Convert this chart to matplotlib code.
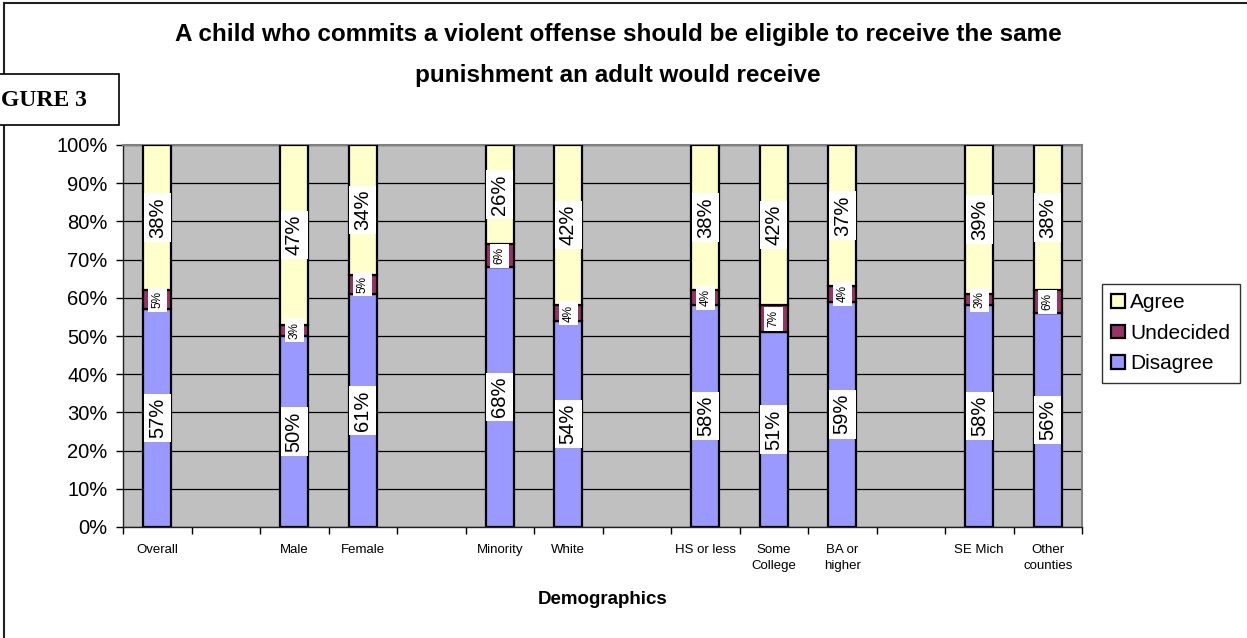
import numpy as np
import matplotlib
matplotlib.use("Agg")
import matplotlib.pyplot as plt
from matplotlib.patches import Rectangle
from matplotlib.lines import Line2D

plt.rcParams['font.family'] = ['Liberation Sans', 'DejaVu Sans']

# survey groups and the slot each bar sits in (empty slots separate the groups)
categories = ["Overall", "Male", "Female", "Minority", "White",
              "HS or less", "Some\nCollege", "BA or\nhigher", "SE Mich", "Other\ncounties"]
slots = [0, 2, 3, 5, 6, 8, 9, 10, 12, 13]
n_slots = 14

disagree = [57, 50, 61, 68, 54, 58, 51, 59, 58, 56]
undecided = [5, 3, 5, 6, 4, 4, 7, 4, 3, 6]
agree = [38, 47, 34, 26, 42, 38, 42, 37, 39, 38]

col_agree = "#FFFFCC"
col_undecided = "#993366"
col_disagree = "#9999FF"

W, H = 1247, 638
fig = plt.figure(figsize=(W / 100, H / 100), dpi=100)
ax = fig.add_axes([123 / W, 1 - 527 / H, (1082 - 123) / W, (527 - 145) / H])
ax.set_facecolor("#C0C0C0")

x = np.array(slots, dtype=float)
d = np.array(disagree)
u = np.array(undecided)
a = np.array(agree)
bw = 0.41

bar_kw = dict(width=bw, edgecolor="black", linewidth=1.6, zorder=3)
ax.bar(x, d, color=col_disagree, label="Disagree", **bar_kw)
ax.bar(x, u, bottom=d, color=col_undecided, label="Undecided", **bar_kw)
ax.bar(x, a, bottom=d + u, color=col_agree, label="Agree", **bar_kw)

# value labels inside each segment
big_box = dict(boxstyle="square,pad=0.2", fc="white", ec="none")
small_box = dict(boxstyle="square,pad=0.3", fc="white", ec="none")
for xi, di, ui, ai in zip(x, d, u, a):
    ax.text(xi, di / 2, f"{di}%", rotation=90, ha="center", va="center",
            fontsize=14.5, bbox=big_box, zorder=5)
    ax.text(xi, di + ui / 2, f"{ui}%", rotation=90, ha="center", va="center",
            fontsize=8.5, bbox=small_box, zorder=5)
    ax.text(xi, di + ui + ai / 2, f"{ai}%", rotation=90, ha="center", va="center",
            fontsize=14.5, bbox=big_box, zorder=5)

ax.set_xlim(-0.5, n_slots - 0.5)
ax.set_ylim(0, 100)
ax.set_yticks(np.arange(0, 101, 10))
ax.set_yticklabels([f"{v}%" for v in range(0, 101, 10)], fontsize=14.5)
ax.yaxis.grid(True, color="black", linewidth=0.9)
ax.set_axisbelow(True)
ax.tick_params(axis="y", direction="out", length=5, width=1, pad=6)

ax.set_xticks(x)
ax.set_xticklabels(categories, fontsize=9.5, linespacing=1.45)
ax.tick_params(axis="x", which="major", length=0, pad=12)
ax.set_xticks(np.arange(-0.5, n_slots, 1.0), minor=True)
ax.tick_params(axis="x", which="minor", direction="out", length=5, width=1)

for side in ["top", "right"]:
    ax.spines[side].set_color("#808080")
    ax.spines[side].set_linewidth(1.5)
for side in ["left", "bottom"]:
    ax.spines[side].set_color("#202020")
    ax.spines[side].set_linewidth(1.0)

ax.set_xlabel("Demographics", fontsize=13.5, fontweight="bold", labelpad=14)

handles, labels = ax.get_legend_handles_labels()
leg = ax.legend(handles[::-1], labels[::-1], loc="upper left",
                bbox_to_anchor=(1102 / W, 1 - 284 / H), bbox_transform=fig.transFigure,
                borderaxespad=0, fontsize=15, frameon=True, fancybox=False,
                edgecolor="black", handlelength=0.65, handleheight=0.65,
                handletextpad=0.25, labelspacing=0.55, borderpad=0.45)
leg.get_frame().set_linewidth(1.0)
for p in leg.get_patches():
    p.set_edgecolor("black")
    p.set_linewidth(1.6)

fig.text(618 / W, 1 - 55 / H,
         "A child who commits a violent offense should be eligible to receive the same\n"
         "punishment an adult would receive",
         ha="center", va="center", fontsize=17.5, fontweight="bold", linespacing=1.95)

# outer chart frame
fig.add_artist(Line2D([4 / W, 4 / W], [0, 1 - 3 / H], transform=fig.transFigure,
                      color="#202020", linewidth=1.5))
fig.add_artist(Line2D([4 / W, 1], [1 - 3 / H, 1 - 3 / H], transform=fig.transFigure,
                      color="#202020", linewidth=1.5))

# figure number tag, running off the left edge
fig.add_artist(Rectangle((-60 / W, 1 - 125 / H), 179 / W, 51 / H, transform=fig.transFigure,
                         facecolor="white", edgecolor="black", linewidth=1.2, zorder=10))
fig.text(1 / W, 1 - 100 / H, "GURE 3", ha="left", va="center", fontsize=17,
         fontweight="bold", family=["Liberation Serif", "DejaVu Serif"], zorder=11)

fig.savefig("out.png", dpi=100)
